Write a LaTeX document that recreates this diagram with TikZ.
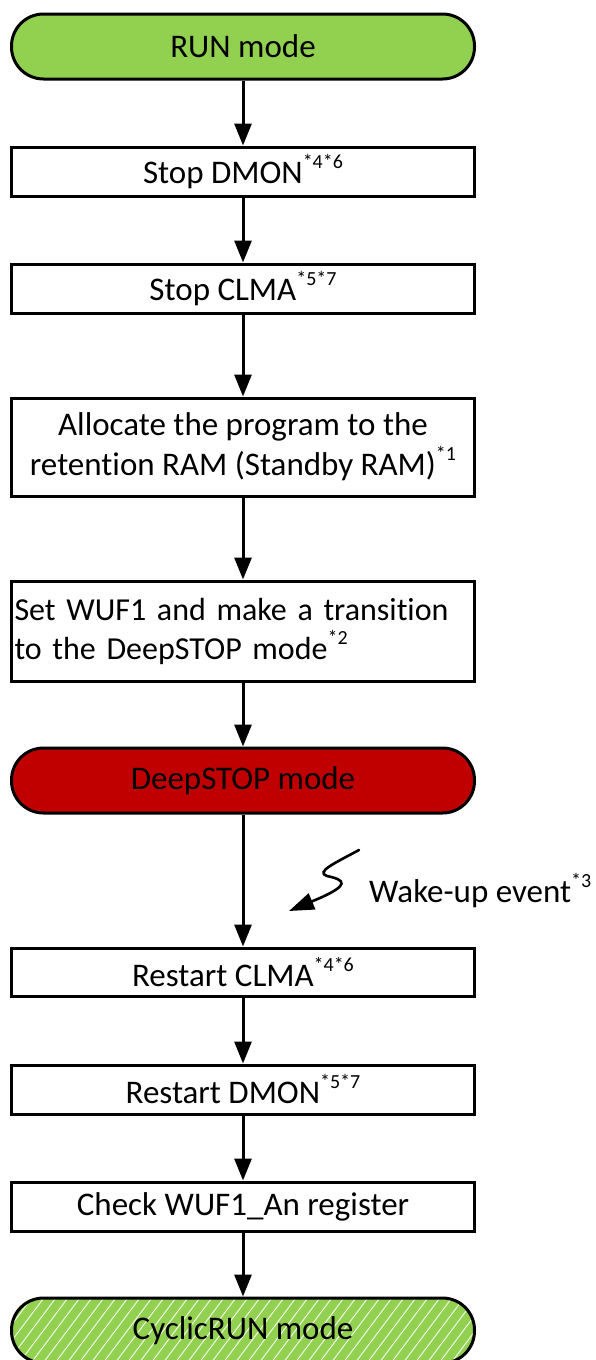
\documentclass[tikz,border=0pt]{standalone}
\usepackage{fontspec}
\setmainfont{Carlito}[Ligatures=NoCommon]
\usetikzlibrary{arrows.meta}
\definecolor{rungreen}{HTML}{92D050}
\definecolor{stopred}{HTML}{C00000}
\newcommand\sups[1]{\raisebox{15pt}{\fontsize{20}{20}\selectfont #1}}
\begin{document}
\begin{tikzpicture}[x=1pt,y=-1pt,
  base/.style={draw=black, line width=3pt, minimum width=463pt,
    font=\fontsize{33}{40}\selectfont, inner sep=2pt},
  procbox/.style={base, rectangle, fill=white},
  termbox/.style={base, rounded corners=32pt, minimum height=65pt},
  arr/.style={line width=3pt, -{Triangle[length=22pt,width=17pt]}},
  wake/.style={line width=2.6pt, line cap=round, -{Triangle[length=25pt,width=17pt]}},
  hatch/.style={path picture={
    \foreach \i in {-72,-60,...,540}{
      \draw[white, line width=1pt, opacity=0.85]
        ([xshift=\i pt,yshift=-10pt]path picture bounding box.south west) -- ++(66pt,88pt);
    }}}]
\clip (0,0) rectangle (595,1360);
\node[termbox, fill=rungreen] (run) at (243,46.5) {RUN mode};
\node[procbox, minimum height=49pt] (dmon) at (243,171.5) {Stop DMON\sups{*4*6}};
\node[procbox, minimum height=49pt] (clma) at (243,288.5) {Stop CLMA\sups{*5*7}};
\node[procbox, minimum height=98pt, align=center] (alloc) at (243,447)
  {Allocate the program to the\\retention RAM (Standby RAM)\sups{*1}};
\node[procbox, minimum height=100pt, text width=457pt, align=left,
  font=\fontsize{32}{39}\selectfont] (wuf) at (243,631)
  {Set WUF1 and make a transition\\to the DeepSTOP mode\sups{*2}};
\node[termbox, fill=stopred] (deep) at (243,780.5) {DeepSTOP mode};
\node[procbox, minimum height=48pt] (rclma) at (243,972) {Restart CLMA\sups{*4*6}};
\node[procbox, minimum height=49pt] (rdmon) at (243,1089.5) {Restart DMON\sups{*5*7}};
\node[procbox, minimum height=49pt] (check) at (243,1206.5) {Check WUF1\_An register};
\node[termbox, fill=rungreen, hatch] (cyc) at (243,1330.5) {CyclicRUN mode};

\draw[arr] (run) -- (dmon);
\draw[arr] (dmon) -- (clma);
\draw[arr] (clma) -- (alloc);
\draw[arr] (alloc) -- (wuf);
\draw[arr] (wuf) -- (deep);
\draw[arr] (deep) -- (rclma);
\draw[arr] (rclma) -- (rdmon);
\draw[arr] (rdmon) -- (check);
\draw[arr] (check) -- (cyc);

\coordinate (ws) at (359,850);
\coordinate (we) at (289,911);
\draw[wake] (ws) .. controls (335,863) and (315,872) .. (327,876)
  .. controls (346,880) and (349,885) .. (320,898) -- (we);
\node[anchor=base west, inner sep=0pt, font=\fontsize{33}{40}\selectfont] (wtxt) at (369,902)
  {Wake-up event\sups{*3}};
\end{tikzpicture}
\end{document}
